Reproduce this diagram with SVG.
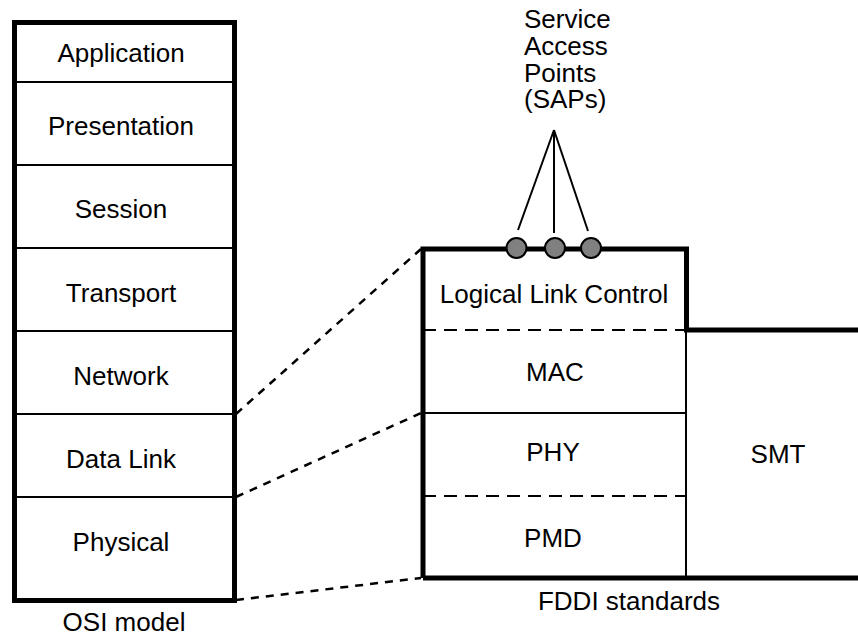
<svg xmlns="http://www.w3.org/2000/svg" width="858" height="638" viewBox="0 0 858 638">
<style>
text{font-family:"Liberation Sans",Arial,sans-serif;font-size:26px;fill:#000}
.c{text-anchor:middle}
.thin{stroke:#000;stroke-width:2;fill:none}
.thick{stroke:#000;stroke-width:5;fill:none}
.dash{stroke:#000;stroke-width:2;fill:none;stroke-dasharray:13 8}
.conn{stroke:#000;stroke-width:2.5;fill:none;stroke-dasharray:8 7}
.sap{fill:#808080;stroke:#000;stroke-width:2}
</style>
<rect width="858" height="638" fill="#fff"/>
<g id="osi">
<rect x="14.5" y="22.5" width="220" height="578" class="thick"/>
<line x1="14" y1="82" x2="234" y2="82" class="thin"/>
<line x1="14" y1="165" x2="234" y2="165" class="thin"/>
<line x1="14" y1="248" x2="234" y2="248" class="thin"/>
<line x1="14" y1="331" x2="234" y2="331" class="thin"/>
<line x1="14" y1="414" x2="234" y2="414" class="thin"/>
<line x1="14" y1="497" x2="234" y2="497" class="thin"/>
<text x="121" y="62" class="c">Application</text>
<text x="121" y="135" class="c">Presentation</text>
<text x="121" y="218" class="c">Session</text>
<text x="121" y="302" class="c">Transport</text>
<text x="121" y="385" class="c">Network</text>
<text x="121" y="468" class="c">Data Link</text>
<text x="121" y="551" class="c">Physical</text>
<text x="124" y="631" class="c">OSI model</text>
</g>
<g id="fddi">
<line x1="686" y1="330" x2="686" y2="578" class="thin"/>
<line x1="423" y1="330" x2="686" y2="330" class="dash"/>
<line x1="423" y1="413" x2="686" y2="413" class="thin"/>
<line x1="423" y1="496" x2="686" y2="496" class="dash"/>
<path d="M423,578 V249 H686.5 V330 H858 M423,578 H858" class="thick"/>
<text x="554" y="303" class="c">Logical Link Control</text>
<text x="555" y="381" class="c">MAC</text>
<text x="553" y="461" class="c">PHY</text>
<text x="553" y="547" class="c">PMD</text>
<text x="778" y="463" class="c">SMT</text>
<text x="629" y="610" class="c">FDDI standards</text>
</g>
<g id="saps">
<line x1="554" y1="130" x2="518" y2="230" class="thin"/>
<line x1="554" y1="130" x2="554" y2="233" class="thin"/>
<line x1="554" y1="130" x2="588" y2="231" class="thin"/>
<circle cx="516.5" cy="248" r="10" class="sap"/>
<circle cx="555" cy="248" r="10" class="sap"/>
<circle cx="591" cy="248" r="10" class="sap"/>
<text x="524" y="28">Service<tspan x="524" dy="27">Access</tspan><tspan x="524" dy="27">Points</tspan><tspan x="524" dy="26">(SAPs)</tspan></text>
</g>
<g id="connectors">
<line x1="236" y1="414" x2="421" y2="249" class="conn"/>
<line x1="236" y1="497" x2="421" y2="413" class="conn"/>
<line x1="236" y1="600" x2="421" y2="578" class="conn"/>
</g>
</svg>
